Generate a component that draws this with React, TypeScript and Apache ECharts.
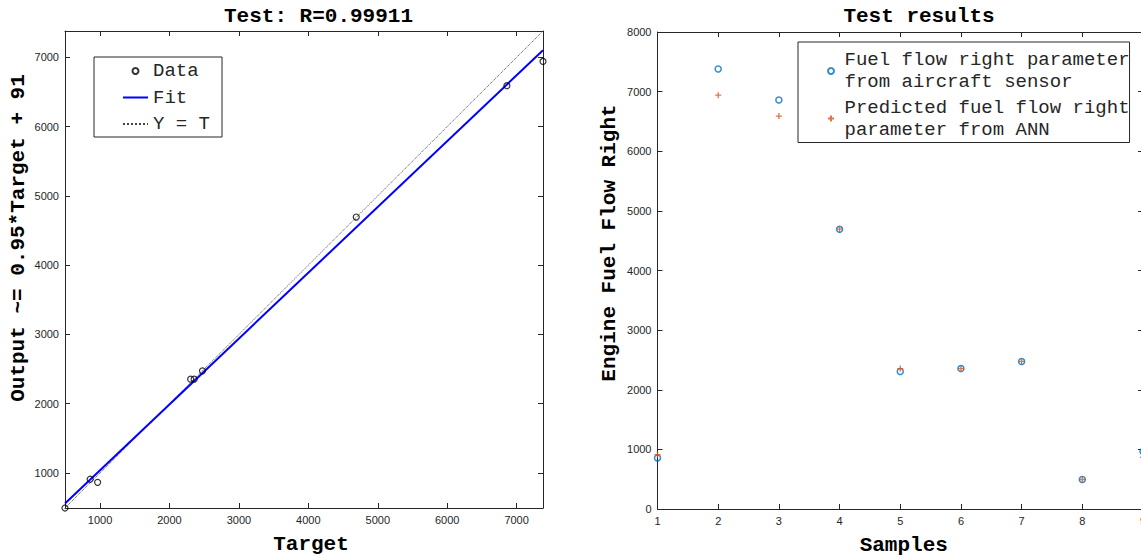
import React, { useEffect, useRef } from "react";
import * as echarts from "echarts";

// ---------- data ----------
const sampleIndex = [1, 2, 3, 4, 5, 6, 7, 8, 9];
const sensorFuelFlow = [857, 7380, 6860, 4690, 2305, 2355, 2475, 495, 965];
const annFuelFlow = [910, 6940, 6590, 4695, 2355, 2355, 2475, 495, 865];

const regressionRange = [495, 7380];
const regressionTicks = [1000, 2000, 3000, 4000, 5000, 6000, 7000];
const fitLine = [
  [495, 561],
  [7380, 7102],
];
const identityLine = [
  [495, 495],
  [7380, 7380],
];

const sampleRange = [1, 9];
const fuelRange = [0, 8000];

const leftTitle = "Test: R=0.99911";
const rightTitle = "Test results";
const leftXName = "Target";
const leftYName = "Output ~= 0.95*Target + 91";
const rightXName = "Samples";
const rightYName = "Engine Fuel Flow Right";
const sensorName = "Fuel flow right parameter\nfrom aircraft sensor";
const annName = "Predicted fuel flow right\nparameter from ANN";

// ---------- styles ----------
const AXIS = "#262626";
const MONO = '"Liberation Mono", "Courier New", monospace';
const SANS = '"Liberation Sans", Arial, Helvetica, sans-serif';

const nameStyle = (padding: number[]) => ({
  fontFamily: MONO,
  fontSize: 21,
  fontWeight: "bold",
  color: "#000",
  padding,
});

function makeAxis(o: any) {
  const { showLabel, customValues, ...rest } = o;
  return {
    type: "value",
    axisLine: { show: true, onZero: false, lineStyle: { color: AXIS, width: 1 } },
    axisTick: {
      show: true,
      inside: true,
      length: 5,
      lineStyle: { color: AXIS, width: 1 },
      ...(customValues ? { customValues } : {}),
    },
    axisLabel: {
      show: !!showLabel,
      fontFamily: SANS,
      fontSize: 11,
      color: AXIS,
      margin: 6,
      formatter: (v: number) => String(v),
      ...(customValues ? { customValues } : {}),
    },
    splitLine: { show: false },
    nameMoveOverlap: false,
    ...rest,
  };
}

export default function App() {
  const ref = useRef<HTMLDivElement>(null);

  useEffect(() => {
    if (!ref.current) return;
    const chart = echarts.init(ref.current, null, { renderer: "svg" });

    const regressionPoints = sensorFuelFlow.map((t, i) => [t, annFuelFlow[i]]);
    const sensorPoints = sampleIndex.map((s, i) => [s, sensorFuelFlow[i]]);
    const annPoints = sampleIndex.map((s, i) => [s, annFuelFlow[i]]);

    const option: any = {
      animation: false,
      backgroundColor: "#fff",
      grid: [
        { left: 65, top: 31, width: 478, height: 477, outerBoundsMode: "none", containLabel: false },
        { left: 657.5, top: 32, width: 485.5, height: 477, outerBoundsMode: "none", containLabel: false },
      ],
      xAxis: [
        makeAxis({
          gridIndex: 0,
          position: "bottom",
          min: regressionRange[0],
          max: regressionRange[1],
          customValues: regressionTicks,
          showLabel: true,
          name: leftXName,
          nameLocation: "middle",
          nameGap: 26,
          nameTextStyle: nameStyle([0, 0, 0, 14]),
        }),
        makeAxis({
          gridIndex: 0,
          position: "top",
          min: regressionRange[0],
          max: regressionRange[1],
          customValues: regressionTicks,
        }),
        makeAxis({
          gridIndex: 1,
          position: "bottom",
          min: sampleRange[0],
          max: sampleRange[1],
          interval: 1,
          showLabel: true,
          name: rightXName,
          nameLocation: "middle",
          nameGap: 26,
          nameTextStyle: nameStyle([0, 0, 0, 7]),
        }),
        makeAxis({
          gridIndex: 1,
          position: "top",
          min: sampleRange[0],
          max: sampleRange[1],
          interval: 1,
        }),
      ],
      yAxis: [
        makeAxis({
          gridIndex: 0,
          position: "left",
          min: regressionRange[0],
          max: regressionRange[1],
          customValues: regressionTicks,
          showLabel: true,
          name: leftYName,
          nameLocation: "middle",
          nameRotate: 90,
          nameGap: 36,
          nameTextStyle: nameStyle([0, 0, 0, 63]),
        }),
        makeAxis({
          gridIndex: 0,
          position: "right",
          min: regressionRange[0],
          max: regressionRange[1],
          customValues: regressionTicks,
        }),
        makeAxis({
          gridIndex: 1,
          position: "left",
          min: fuelRange[0],
          max: fuelRange[1],
          interval: 1000,
          showLabel: true,
          name: rightYName,
          nameLocation: "middle",
          nameRotate: 90,
          nameGap: 38,
          nameTextStyle: nameStyle([0, 0, 0, 55]),
        }),
        makeAxis({
          gridIndex: 1,
          position: "right",
          min: fuelRange[0],
          max: fuelRange[1],
          interval: 1000,
        }),
      ],
      legend: [
        {
          data: [
            "Data",
            { name: "Fit", itemStyle: { opacity: 0 } },
            { name: "Y = T", itemStyle: { opacity: 0 } },
          ],
          orient: "vertical",
          left: 94,
          top: 57,
          itemWidth: 25,
          itemHeight: 6,
          itemGap: 0.5,
          padding: [1, 12, 0, 28],
          borderColor: AXIS,
          borderWidth: 1,
          backgroundColor: "#fff",
          selectedMode: false,
          textStyle: { fontFamily: MONO, fontSize: 19, lineHeight: 26, color: AXIS },
        },
        {
          data: [sensorName, annName],
          orient: "vertical",
          left: 798,
          top: 42,
          itemWidth: 17,
          itemHeight: 6,
          itemGap: 3.5,
          padding: [7, 0, 2, 29],
          borderColor: AXIS,
          borderWidth: 1,
          backgroundColor: "#fff",
          selectedMode: false,
          textStyle: { fontFamily: MONO, fontSize: 19, lineHeight: 22, color: AXIS },
        },
      ],
      graphic: [
        {
          type: "text",
          x: 318.5,
          y: 16,
          style: {
            text: leftTitle,
            font: `bold 21px ${MONO}`,
            fill: "#000",
            textAlign: "center",
            textVerticalAlign: "middle",
          },
        },
        {
          type: "text",
          x: 919,
          y: 16,
          style: {
            text: rightTitle,
            font: `bold 21px ${MONO}`,
            fill: "#000",
            textAlign: "center",
            textVerticalAlign: "middle",
          },
        },
      ],
      series: [
        {
          name: "Y = T",
          type: "line",
          xAxisIndex: 0,
          yAxisIndex: 0,
          data: identityLine,
          symbol: "none",
          lineStyle: { color: "#444", width: 1, type: "dotted" },
          itemStyle: { color: "#444" },
          silent: true,
          z: 2,
        },
        {
          name: "Fit",
          type: "line",
          xAxisIndex: 0,
          yAxisIndex: 0,
          data: fitLine,
          symbol: "none",
          lineStyle: { color: "#0000ff", width: 2 },
          itemStyle: { color: "#0000ff" },
          silent: true,
          z: 3,
        },
        {
          name: "Data",
          type: "scatter",
          xAxisIndex: 0,
          yAxisIndex: 0,
          data: regressionPoints,
          symbol: "circle",
          symbolSize: 6,
          clip: false,
          itemStyle: { color: "transparent", borderColor: "#000", borderWidth: 1.2 },
          silent: true,
          z: 5,
        },
        {
          name: sensorName,
          type: "scatter",
          xAxisIndex: 2,
          yAxisIndex: 2,
          data: sensorPoints,
          symbol: "circle",
          symbolSize: 6,
          clip: false,
          itemStyle: { color: "transparent", borderColor: "#0072BD", borderWidth: 1.5 },
          silent: true,
          z: 4,
        },
        {
          name: annName,
          type: "scatter",
          xAxisIndex: 2,
          yAxisIndex: 2,
          data: annPoints,
          symbol: "path://M5,0L5,10M0,5L10,5",
          symbolSize: 6,
          clip: false,
          itemStyle: { color: "transparent", borderColor: "#D95319", borderWidth: 1.3 },
          silent: true,
          z: 5,
        },
      ],
    };

    chart.setOption(option);
    return () => chart.dispose();
  }, []);

  return (
    <div
      ref={ref}
      style={{ position: "fixed", left: 0, top: 0, width: 1141, height: 557, background: "#fff" }}
    />
  );
}
